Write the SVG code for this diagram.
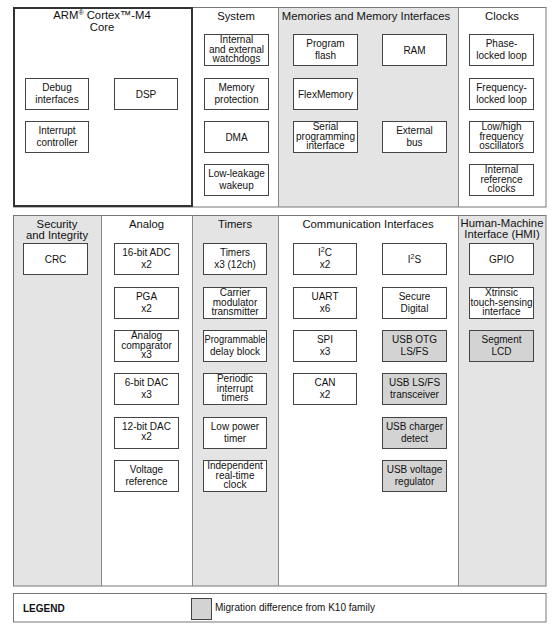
<svg xmlns="http://www.w3.org/2000/svg" width="553" height="629" viewBox="0 0 553 629">
<style>
text{font-family:"Liberation Sans",Arial,sans-serif;fill:#111;text-anchor:middle}
.t{font-size:11.3px}
.b{font-size:10px}
.box{fill:#fff;stroke:#444;stroke-width:1}
.gbox{fill:#d3d3d3;stroke:#444;stroke-width:1}
.col{fill:#e4e4e4;stroke:none}
.frame{fill:none;stroke:#777;stroke-width:1}
.sep{stroke:#888;stroke-width:1}
</style>
<rect width="553" height="629" fill="#fff"/>
<!-- section backgrounds -->
<g id="backgrounds">
<rect class="col" x="278" y="7" width="180" height="200"/>
<rect class="col" x="13" y="215" width="88" height="371"/>
<rect class="col" x="192" y="215" width="86" height="371"/>
<rect class="col" x="458" y="215" width="88" height="371"/>
<rect class="frame" x="13.5" y="7.5" width="532.5" height="199.5"/>
<line class="sep" x1="278.5" y1="7" x2="278.5" y2="207"/>
<line class="sep" x1="458.5" y1="7" x2="458.5" y2="207"/>
<rect class="frame" x="13.5" y="215.5" width="532.5" height="370.5"/>
<line class="sep" x1="101.5" y1="215" x2="101.5" y2="586"/>
<line class="sep" x1="192.5" y1="215" x2="192.5" y2="586"/>
<line class="sep" x1="278.5" y1="215" x2="278.5" y2="586"/>
<line class="sep" x1="458.5" y1="215" x2="458.5" y2="586"/>
</g>
<g id="connectors"></g>
<!-- Core -->
<g id="core">
<rect x="14" y="8" width="178" height="198" fill="none" stroke="#333" stroke-width="2"/>
<text class="t" x="102" y="19">ARM<tspan font-size="7" dy="-4">®</tspan><tspan dy="4"> Cortex™-M4</tspan></text>
<text class="t" x="102" y="30.5">Core</text>
</g>
<g id="debug"><rect class="box" x="25.5" y="78.5" width="63" height="31"/><text class="b" x="57" y="90.5">Debug</text><text class="b" x="57" y="102.5">interfaces</text></g>
<g id="dsp"><rect class="box" x="114.5" y="78.5" width="63" height="31"/><text class="b" x="146" y="97.5">DSP</text></g>
<g id="interrupt"><rect class="box" x="25.5" y="121.5" width="63" height="31"/><text class="b" x="57" y="133.5">Interrupt</text><text class="b" x="57" y="145.5">controller</text></g>
<!-- System -->
<g id="system"><text class="t" x="236" y="20">System</text></g>
<g id="watchdogs"><rect class="box" x="204.5" y="34.5" width="64" height="31"/><text class="b" x="236.5" y="43">Internal</text><text class="b" x="236.5" y="52.5">and external</text><text class="b" x="236.5" y="62">watchdogs</text></g>
<g id="memprot"><rect class="box" x="204.5" y="78.5" width="64" height="31"/><text class="b" x="236.5" y="90.5">Memory</text><text class="b" x="236.5" y="102.5">protection</text></g>
<g id="dma"><rect class="box" x="204.5" y="121.5" width="64" height="31"/><text class="b" x="236.5" y="140.5">DMA</text></g>
<g id="wakeup"><rect class="box" x="204.5" y="164.5" width="64" height="31"/><text class="b" x="236.5" y="176.5">Low-leakage</text><text class="b" x="236.5" y="188.5">wakeup</text></g>
<!-- Memories -->
<g id="memories"><text class="t" x="366" y="20">Memories and Memory Interfaces</text></g>
<g id="flash"><rect class="box" x="293.5" y="34.5" width="64" height="31"/><text class="b" x="325.5" y="46.5">Program</text><text class="b" x="325.5" y="58.5">flash</text></g>
<g id="ram"><rect class="box" x="382.5" y="34.5" width="64" height="31"/><text class="b" x="414.5" y="53.5">RAM</text></g>
<g id="flexmem"><rect class="box" x="293.5" y="78.5" width="64" height="31"/><text class="b" x="325.5" y="97.5">FlexMemory</text></g>
<g id="spi-prog"><rect class="box" x="293.5" y="121.5" width="64" height="31"/><text class="b" x="325.5" y="130">Serial</text><text class="b" x="325.5" y="139.5">programming</text><text class="b" x="325.5" y="149">interface</text></g>
<g id="extbus"><rect class="box" x="382.5" y="121.5" width="64" height="31"/><text class="b" x="414.5" y="133.5">External</text><text class="b" x="414.5" y="145.5">bus</text></g>
<!-- Clocks -->
<g id="clocks"><text class="t" x="502" y="20">Clocks</text></g>
<g id="pll"><rect class="box" x="469.5" y="34.5" width="64" height="31"/><text class="b" x="501.5" y="46.5">Phase-</text><text class="b" x="501.5" y="58.5">locked loop</text></g>
<g id="fll"><rect class="box" x="469.5" y="78.5" width="64" height="31"/><text class="b" x="501.5" y="90.5">Frequency-</text><text class="b" x="501.5" y="102.5">locked loop</text></g>
<g id="osc"><rect class="box" x="469.5" y="121.5" width="64" height="31"/><text class="b" x="501.5" y="130">Low/high</text><text class="b" x="501.5" y="139.5">frequency</text><text class="b" x="501.5" y="149">oscillators</text></g>
<g id="irc"><rect class="box" x="469.5" y="164.5" width="64" height="31"/><text class="b" x="501.5" y="173">Internal</text><text class="b" x="501.5" y="182.5">reference</text><text class="b" x="501.5" y="192">clocks</text></g>
<!-- Security -->
<g id="security"><text class="t" x="57" y="227.5">Security</text><text class="t" x="57" y="238.5">and Integrity</text></g>
<g id="crc"><rect class="box" x="23.5" y="243.5" width="64" height="31"/><text class="b" x="55.5" y="262.5">CRC</text></g>
<!-- Analog -->
<g id="analog"><text class="t" x="146.5" y="228">Analog</text></g>
<g id="adc"><rect class="box" x="114.5" y="243.5" width="64" height="31"/><text class="b" x="146.5" y="255.5">16-bit ADC</text><text class="b" x="146.5" y="267.5">x2</text></g>
<g id="pga"><rect class="box" x="114.5" y="287.5" width="64" height="31"/><text class="b" x="146.5" y="299.5">PGA</text><text class="b" x="146.5" y="311.5">x2</text></g>
<g id="cmp"><rect class="box" x="114.5" y="330.5" width="64" height="31"/><text class="b" x="146.5" y="339">Analog</text><text class="b" x="146.5" y="348.5">comparator</text><text class="b" x="146.5" y="358">x3</text></g>
<g id="dac6"><rect class="box" x="114.5" y="373.5" width="64" height="31"/><text class="b" x="146.5" y="385.5">6-bit DAC</text><text class="b" x="146.5" y="397.5">x3</text></g>
<g id="dac12"><rect class="box" x="114.5" y="417.5" width="64" height="31"/><text class="b" x="146.5" y="429.5">12-bit DAC</text><text class="b" x="146.5" y="439.5">x2</text></g>
<g id="vref"><rect class="box" x="114.5" y="460.5" width="64" height="31"/><text class="b" x="146.5" y="472.5">Voltage</text><text class="b" x="146.5" y="484.5">reference</text></g>
<!-- Timers -->
<g id="timers"><text class="t" x="235" y="228">Timers</text></g>
<g id="ftm"><rect class="box" x="203.5" y="243.5" width="63" height="31"/><text class="b" x="235" y="255.5">Timers</text><text class="b" x="235" y="267.5">x3 (12ch)</text></g>
<g id="cmt"><rect class="box" x="203.5" y="287.5" width="63" height="31"/><text class="b" x="235" y="296">Carrier</text><text class="b" x="235" y="305.5">modulator</text><text class="b" x="235" y="315">transmitter</text></g>
<g id="pdb"><rect class="box" x="203.5" y="330.5" width="63" height="31"/><text class="b" x="235" y="342.5" textLength="61" lengthAdjust="spacingAndGlyphs">Programmable</text><text class="b" x="235" y="354.5">delay block</text></g>
<g id="pit"><rect class="box" x="203.5" y="373.5" width="63" height="31"/><text class="b" x="235" y="382">Periodic</text><text class="b" x="235" y="391.5">interrupt</text><text class="b" x="235" y="401">timers</text></g>
<g id="lpt"><rect class="box" x="203.5" y="417.5" width="63" height="31"/><text class="b" x="235" y="429.5">Low power</text><text class="b" x="235" y="441.5">timer</text></g>
<g id="rtc"><rect class="box" x="203.5" y="460.5" width="63" height="31"/><text class="b" x="235" y="469">Independent</text><text class="b" x="235" y="478.5">real-time</text><text class="b" x="235" y="488">clock</text></g>
<!-- Communication -->
<g id="comm"><text class="t" x="368" y="228">Communication Interfaces</text></g>
<g id="i2c"><rect class="box" x="293.5" y="243.5" width="63" height="31"/><text class="b" x="325" y="255.5">I<tspan font-size="7" dy="-4">2</tspan><tspan dy="4">C</tspan></text><text class="b" x="325" y="267.5">x2</text></g>
<g id="i2s"><rect class="box" x="382.5" y="243.5" width="64" height="31"/><text class="b" x="414.5" y="262.5">I<tspan font-size="7" dy="-4">2</tspan><tspan dy="4">S</tspan></text></g>
<g id="uart"><rect class="box" x="293.5" y="287.5" width="63" height="31"/><text class="b" x="325" y="299.5">UART</text><text class="b" x="325" y="311.5">x6</text></g>
<g id="sdhc"><rect class="box" x="382.5" y="287.5" width="64" height="31"/><text class="b" x="414.5" y="299.5">Secure</text><text class="b" x="414.5" y="311.5">Digital</text></g>
<g id="spi"><rect class="box" x="293.5" y="330.5" width="63" height="31"/><text class="b" x="325" y="342.5">SPI</text><text class="b" x="325" y="354.5">x3</text></g>
<g id="usbotg"><rect class="gbox" x="382.5" y="330.5" width="64" height="31"/><text class="b" x="414.5" y="342.5">USB OTG</text><text class="b" x="414.5" y="354.5">LS/FS</text></g>
<g id="can"><rect class="box" x="293.5" y="373.5" width="63" height="31"/><text class="b" x="325" y="385.5">CAN</text><text class="b" x="325" y="397.5">x2</text></g>
<g id="usbxcvr"><rect class="gbox" x="382.5" y="373.5" width="64" height="31"/><text class="b" x="414.5" y="385.5">USB LS/FS</text><text class="b" x="414.5" y="397.5">transceiver</text></g>
<g id="usbdcd"><rect class="gbox" x="382.5" y="417.5" width="64" height="31"/><text class="b" x="414.5" y="429.5">USB charger</text><text class="b" x="414.5" y="441.5">detect</text></g>
<g id="usbvreg"><rect class="gbox" x="382.5" y="460.5" width="64" height="31"/><text class="b" x="414.5" y="472.5">USB voltage</text><text class="b" x="414.5" y="484.5">regulator</text></g>
<!-- HMI -->
<g id="hmi"><text class="t" x="502" y="226.5">Human-Machine</text><text class="t" x="502" y="237.5">Interface (HMI)</text></g>
<g id="gpio"><rect class="box" x="469.5" y="243.5" width="64" height="31"/><text class="b" x="501.5" y="262.5">GPIO</text></g>
<g id="tsi"><rect class="box" x="469.5" y="287.5" width="64" height="31"/><text class="b" x="501.5" y="296">Xtrinsic</text><text class="b" x="501.5" y="305.5" textLength="62" lengthAdjust="spacingAndGlyphs">touch-sensing</text><text class="b" x="501.5" y="315">interface</text></g>
<g id="slcd"><rect class="gbox" x="469.5" y="330.5" width="64" height="31"/><text class="b" x="501.5" y="342.5">Segment</text><text class="b" x="501.5" y="354.5">LCD</text></g>
<!-- Legend -->
<g id="legend">
<rect x="13.5" y="593.5" width="532.5" height="28.5" fill="#fff" stroke="#777" stroke-width="1"/>
<text x="23" y="611.5" font-size="10" font-weight="bold" style="text-anchor:start">LEGEND</text>
<rect class="gbox" x="191.5" y="598.5" width="20" height="21"/>
<text x="215" y="610.5" font-size="10" style="text-anchor:start">Migration difference from K10 family</text>
</g>
</svg>
